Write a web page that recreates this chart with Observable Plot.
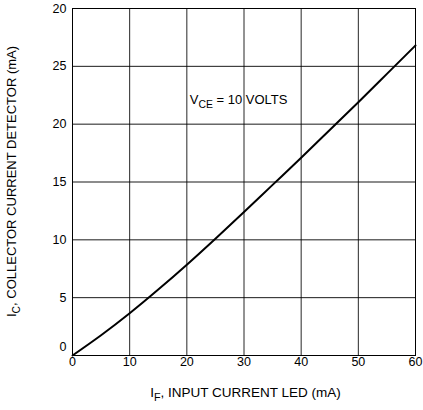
<!DOCTYPE html>
<html>
<head>
<meta charset="utf-8">
<script src="https://cdn.jsdelivr.net/npm/d3@7"></script>
<script src="https://cdn.jsdelivr.net/npm/@observablehq/plot@0.6"></script>
<style>
  html, body { margin: 0; padding: 0; background: #fff; }
  #chart { width: 423px; height: 410px; }
</style>
</head>
<body>
<div id="chart"></div>
<script>
// Input current I_F (mA)
const inputCurrent = [0, 5, 10, 15, 20, 25, 30, 35, 40, 45, 50, 55, 60];
// Collector current I_C (mA)
const collectorCurrent = [0, 1.75, 3.65, 5.7, 7.85, 10.1, 12.4, 14.75, 17.1, 19.5, 21.9, 24.35, 26.8];

const xTicks = [0, 10, 20, 30, 40, 50, 60];
const xTickLabels = ["0", "10", "20", "30", "40", "50", "60"];
const yTicks = [0, 5, 10, 15, 20, 25, 30];
const yTickLabels = ["0", "5", "10", "15", "20", "25", "20"];

const annotation = {x: 20.6, y: 22.1, main: "V", sub: "CE", rest: " = 10 VOLTS"};
const xTitle = {main: "I", sub: "F", rest: ", INPUT CURRENT LED (mA)"};
const yTitle = {main: "I", sub: "C", rest: ", COLLECTOR CURRENT DETECTOR (mA)"};

const data = inputCurrent.map((x, i) => ({x, y: collectorCurrent[i]}));
const xTickData = xTicks.map((v, i) => ({v, label: xTickLabels[i]}));
const yTickData = yTicks.map((v, i) => ({v, label: yTickLabels[i]}));

const font = "'Liberation Sans', Arial, sans-serif";

const plot = Plot.plot({
  width: 423,
  height: 410,
  marginLeft: 72,
  marginRight: 8,
  marginTop: 8,
  marginBottom: 55,
  style: {fontFamily: font, fontSize: "12px", background: "#fff", color: "#000"},
  x: {domain: [0, 60], axis: null},
  y: {domain: [0, 30], axis: null},
  marks: [
    Plot.ruleX(xTicks, {stroke: "#000", strokeWidth: 1, strokeOpacity: 0.85}),
    Plot.ruleY(yTicks, {stroke: "#000", strokeWidth: 1, strokeOpacity: 0.9}),
    Plot.frame({stroke: "#000", strokeWidth: 1}),
    Plot.line(data, {x: "x", y: "y", stroke: "#000", strokeWidth: 2, curve: "natural"}),
    Plot.text(xTickData, {x: "v", text: "label", frameAnchor: "bottom", dy: 10, fill: "#000", fontSize: 12.5}),
    Plot.text(yTickData.filter(d => d.v !== 0), {y: "v", text: "label", frameAnchor: "left", textAnchor: "end", dx: -6, fill: "#000", fontSize: 12.5}),
    Plot.text(yTickData.filter(d => d.v === 0), {y: "v", text: "label", frameAnchor: "left", textAnchor: "end", dx: -6, dy: -9, fill: "#000", fontSize: 12.5})
  ]
});

document.getElementById("chart").appendChild(plot);

const sx = plot.scale("x"), sy = plot.scale("y");
const svg = d3.select(plot);

function subText(g, spec, size) {
  const t = g.append("text").attr("fill", "#000").attr("font-family", font).attr("font-size", size).attr("text-anchor", "start");
  t.append("tspan").text(spec.main);
  t.append("tspan").attr("font-size", size * 0.8).attr("dy", size * 0.3).text(spec.sub);
  t.append("tspan").attr("dy", -size * 0.3).text(spec.rest);
  return t;
}

// annotation
subText(svg, annotation, 13)
  .attr("x", sx.apply(annotation.x))
  .attr("y", sy.apply(annotation.y) + 5);

// x axis title
subText(svg, xTitle, 13.5)
  .attr("x", (sx.apply(0) + sx.apply(60)) / 2 + 2)
  .attr("y", 397)
  .attr("text-anchor", "middle");

// y axis title
const cy = (sy.apply(0) + sy.apply(30)) / 2;
subText(svg, yTitle, 13)
  .attr("text-anchor", "middle")
  .attr("transform", `translate(16,${cy}) rotate(-90)`);
</script>
</body>
</html>
